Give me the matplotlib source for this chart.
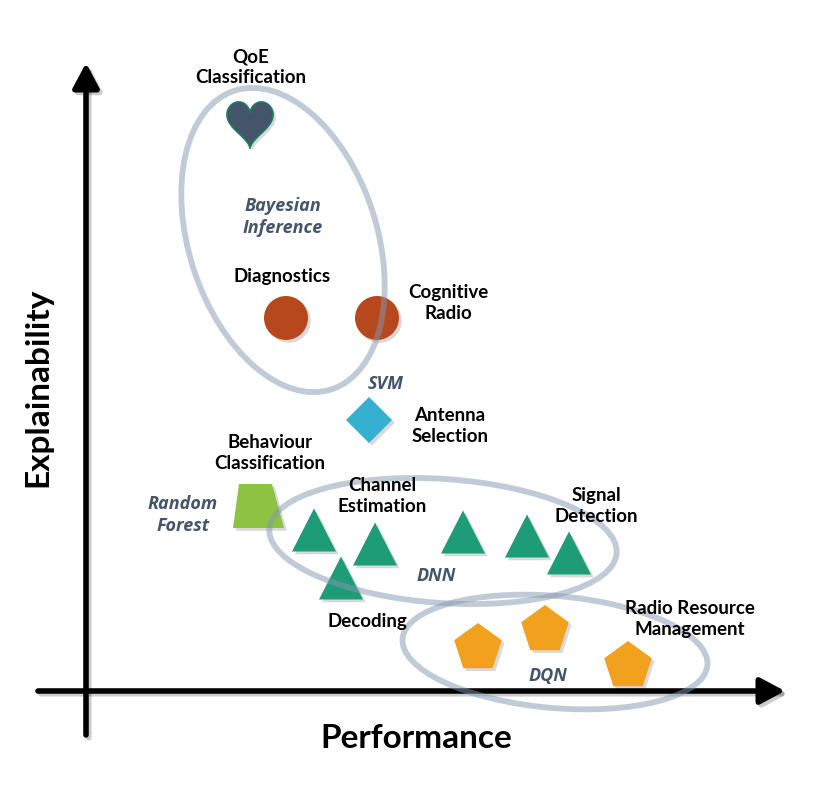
"""Explainability vs performance map of ML methods in wireless networks."""
import matplotlib.pyplot as plt
import matplotlib.patheffects as pe
import numpy as np
from matplotlib.patches import Circle, Ellipse, Polygon, RegularPolygon

# ---- data (performance, explainability), origin at the axis corner ----
heart_pt = (164, 567)                       # QoE classification
circle_pts = [(200, 373), (291, 373)]       # diagnostics, cognitive radio
diamond_pt = (283, 271)                     # antenna selection
trapezoid_pt = (172, 185)                   # behaviour classification
triangle_pts = [(228, 161), (289, 147), (377, 159),
                (441, 155), (483, 138), (255, 113)]
pentagon_pts = [(392, 43), (459, 61), (542, 25)]

# method groups: centre, width, height, angle
groups = ["Bayesian Inference", "DNN", "DQN"]
group_centres = [(197, 451), (357, 150), (469, 39)]
group_sizes = [(314, 188), (348, 124), (306, 112)]
group_angles = [108, -4, -5]

# labels: text, position
app_labels = ["QoE\nClassification", "Diagnostics", "Cognitive\nRadio",
              "Antenna\nSelection", "Behaviour\nClassification",
              "Channel\nEstimation", "Signal\nDetection", "Decoding",
              "Radio Resource\nManagement"]
app_label_pos = [(165, 624), (196, 415), (362, 388), (364, 265),
                 (184, 238), (296, 195), (510, 185), (281, 69), (604, 72)]
method_labels = ["Bayesian\nInference", "SVM", "Random\nForest", "DNN", "DQN"]
method_label_pos = [(197, 474), (300, 307), (97, 176), (350, 115), (462, 15)]

BOLD = dict(family=["Lato", "DejaVu Sans"], weight="bold")
ITALIC = dict(family=["Open Sans", "DejaVu Sans"], weight="bold", style="italic")

fig = plt.figure(figsize=(8.3, 7.97), dpi=100)
ax = fig.add_axes([0, 0, 1, 1])
ax.set_xlim(-86, 744)
ax.set_ylim(-106, 691)
ax.set_aspect("equal")
ax.axis("off")

shadow = [pe.SimplePatchShadow(offset=(2, -2), shadow_rgbFace="black", alpha=0.15),
          pe.Normal()]

# axes arrows
for start, tip in [((0, -44), (0, 628)), ((-48, 0), (699, 0))]:
    ax.annotate("", xy=tip, xytext=start,
                arrowprops=dict(arrowstyle="-|>,head_length=0.75,head_width=0.4",
                                lw=4, color="black", mutation_scale=20,
                                shrinkA=0, shrinkB=0,
                                path_effects=[pe.SimpleLineShadow(offset=(2, -2), alpha=0.2),
                                              pe.Normal()]))

# heart
t = np.linspace(0, 2 * np.pi, 200)
hx = heart_pt[0] + 1.44 * 16 * np.sin(t) ** 3
hy = heart_pt[1] + 3 + 1.6 * (13 * np.cos(t) - 5 * np.cos(2 * t) - 2 * np.cos(3 * t) - np.cos(4 * t))
ax.add_patch(Polygon(np.column_stack([hx, hy]), closed=True, fc="#44546A",
                     ec="#1E7D5F", lw=1.2, path_effects=shadow, zorder=3))

for x, y in circle_pts:
    ax.add_patch(Circle((x, y), 22, fc="#B5491D", ec="none", path_effects=shadow, zorder=3))

ax.add_patch(RegularPolygon(diamond_pt, 4, radius=23, fc="#35B0D0", ec="none",
                            path_effects=shadow, zorder=3))

tx, ty = trapezoid_pt
ax.add_patch(Polygon([(tx - 25, ty - 22), (tx + 26, ty - 22), (tx + 14, ty + 22), (tx - 19, ty + 22)],
                     closed=True, fc="#8CC343", ec="none", path_effects=shadow, zorder=3))

for x, y in triangle_pts:
    ax.add_patch(Polygon([(x - 22, y - 21.5), (x + 22, y - 21.5), (x, y + 21.5)], closed=True,
                         fc="#1E9B77", ec="none", path_effects=shadow, zorder=3))

for x, y in pentagon_pts:
    ax.add_patch(RegularPolygon((x, y), 5, radius=25, fc="#F2A11F", ec="none",
                                path_effects=shadow, zorder=3))

# method groups
for (cx, cy), (w, h), ang in zip(group_centres, group_sizes, group_angles):
    ax.add_patch(Ellipse((cx, cy), w, h, angle=ang, fc="none", ec="#8497B0",
                         lw=4.2, alpha=0.5, zorder=4))

for txt, (x, y) in zip(app_labels, app_label_pos):
    ax.text(x, y, txt, ha="center", va="center", fontsize=13.5, linespacing=1.28,
            color="black", zorder=5, **BOLD)

for txt, (x, y) in zip(method_labels, method_label_pos):
    ax.text(x, y, txt, ha="center", va="center", fontsize=13, linespacing=1.25,
            color="#44546A", zorder=5, **ITALIC)

ax.text(330, -47, "Performance", ha="center", va="center", fontsize=24, **BOLD)
ax.text(-48, 304, "Explainability", ha="center", va="center", fontsize=24,
        rotation=90, **BOLD)

fig.savefig("out.png", dpi=100)
